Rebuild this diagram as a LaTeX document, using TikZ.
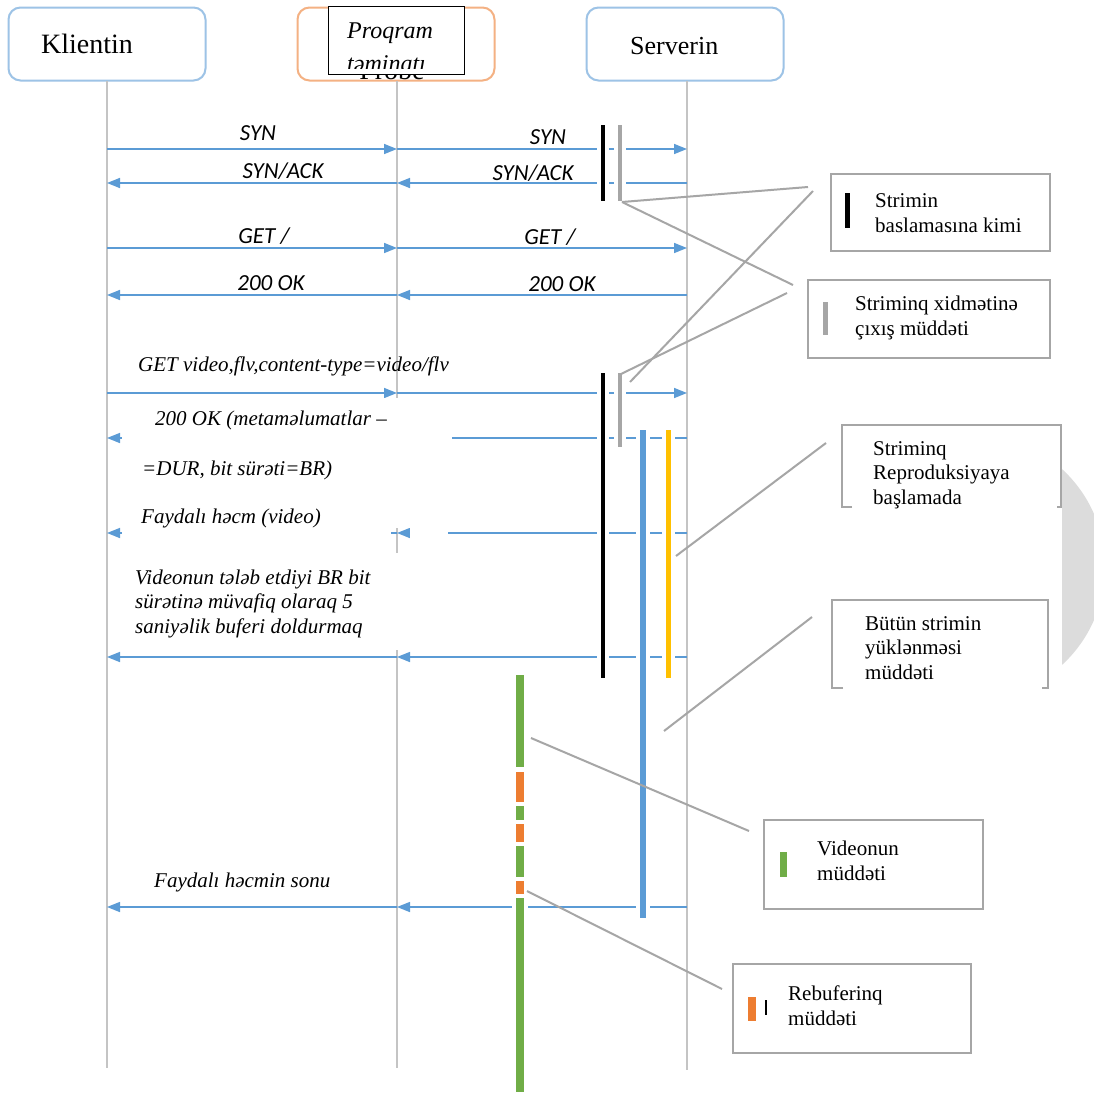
\documentclass[tikz,border=0pt]{standalone}
\usepackage{fontspec}
\setmainfont{Liberation Serif}
\newfontfamily\calib{Carlito}
\usetikzlibrary{arrows.meta}
\definecolor{msgblue}{HTML}{5B9BD5}
\definecolor{lifegray}{HTML}{C4C4C4}
\definecolor{leadgray}{HTML}{A6A6A6}
\definecolor{hdrblue}{HTML}{9DC3E6}
\definecolor{hdrorange}{HTML}{F4B183}
\definecolor{barblue}{HTML}{5B9BD5}
\definecolor{baryellow}{HTML}{FFC000}
\definecolor{bargreen}{HTML}{70AD47}
\definecolor{barorange}{HTML}{ED7D31}
\definecolor{barsilver}{HTML}{A6A6A6}
\definecolor{haze}{HTML}{DCDCDC}
% vertical duration bar with a white halo that interrupts the message lines
\newcommand\durbar[5]{%
  \draw[white, line width=#4pt+8pt] (#1,#2) -- (#1,#3);
  \draw[#5, line width=#4pt] (#1,#2) -- (#1,#3);}
\begin{document}
\begin{tikzpicture}[x=1pt,y=-1pt,
  header/.style={draw=#1, line width=2, rounded corners=12, fill=white,
    minimum width=197, minimum height=73, inner sep=0},
  hdrtext/.style={font=\fontsize{#1}{#1}\selectfont, anchor=base west, inner sep=0},
  lifeline/.style={draw=lifegray, line width=1.3},
  msg/.style={draw=msgblue, line width=1.5, -{Triangle[length=13,width=10]}},
  msglabel/.style={font=\calib\itshape\fontsize{23}{26}\selectfont, anchor=base, inner sep=0},
  note/.style={font=\itshape\fontsize{21}{24.5}\selectfont, anchor=base west, inner sep=0},
  legtext/.style={font=\fontsize{21}{24.5}\selectfont, anchor=base west, inner sep=0, align=left},
  legbox/.style={draw=leadgray, line width=1.8, fill=white, inner sep=0, anchor=north west},
  leader/.style={draw=leadgray, line width=2}
]
\useasboundingbox (0,0) rectangle (1094,1095);
\fill[white] (0,0) rectangle (1094,1095);

% soft grey disc at the right margin
\begin{scope}
  \clip (1062,0) rectangle (1094,1095);
  \fill[haze] (972,567) circle[radius=133];
\end{scope}

% ---------- participants ----------
\node[header=hdrblue]   (client) at (107,44) {};
\node[header=hdrorange] (proxy)  at (396,44) {};
\node[header=hdrblue]   (server) at (685,44) {};
\node[hdrtext=28] (clientname) at (41,53) {Klientin};
\node[hdrtext=26] (servername) at (630,54) {Serverin};
\begin{scope}
  \clip (328,74.5) rectangle (464,80);
  \node[hdrtext=28, anchor=base] (proxyold) at (392,79) {Probe};
\end{scope}
\node[draw=black, line width=1.2, fill=white, minimum width=136, minimum height=68,
  inner sep=0, anchor=north west] (proxyname) at (328,6) {};
\node[font=\itshape\fontsize{24}{26}\selectfont, anchor=base west, inner sep=0]
  (proxyl1) at (347,38) {Proqram};
\begin{scope}
  \clip (329,40) rectangle (463,68.5);
  \node[font=\itshape\fontsize{24}{26}\selectfont, anchor=base west, inner sep=0]
    (proxyl2) at (347,71) {təminatı};
\end{scope}

% ---------- lifelines ----------
\coordinate (ctop) at (107,81);  \coordinate (cend) at (107,1068);
\coordinate (ptop) at (397,81);  \coordinate (pend) at (397,1068);
\coordinate (stop) at (687,81);  \coordinate (send) at (687,1070);
\draw[lifeline] (ctop) -- (cend);
\draw[lifeline] (ptop) -- (pend);
\draw[lifeline] (stop) -- (send);

% ---------- messages ----------
\foreach \n/\y in {syn/149,ack/183,get/248,ok/295,vid/393,meta/438,pay/533,buf/657,fin/907}{
  \coordinate (C\n) at (107,\y);
  \coordinate (P\n) at (397,\y);
  \coordinate (S\n) at (687,\y);
}
\foreach \n in {syn,get,vid}{
  \draw[msg] (C\n) -- (P\n);
  \draw[msg] (P\n) -- (S\n);
}
\foreach \n in {ack,ok,meta,pay,buf,fin}{
  \draw[msg] (S\n) -- (P\n);
  \draw[msg] (P\n) -- (C\n);
}

\node[msglabel] (syn1) at (258,140) {SYN};
\node[msglabel] (syn2) at (548,144) {SYN};
\node[msglabel] (ack1) at (283,178) {SYN/ACK};
\node[msglabel] (ack2) at (533,180) {SYN/ACK};
\node[msglabel] (get1) at (264,243) {GET /};
\node[msglabel] (get2) at (550,244) {GET /};
\node[msglabel] (ok1)  at (271,290) {200 OK};
\node[msglabel] (ok2)  at (562,291) {200 OK};

% label backgrounds over the lines
\fill[white] (122,398) rectangle (452,528);
\fill[white] (122,528) rectangle (391,539);
\fill[white] (410,528) rectangle (448,539);
\fill[white] (122,553) rectangle (455,650);

\node[note] (reqvideo) at (138,371) {GET video,flv,content-type=video/flv};
\node[note] (meta1) at (155,425) {200 OK (metaməlumatlar –};
\node[note] (meta2) at (142,475) {=DUR, bit sürəti=BR)};
\node[note] (payload) at (141,523) {Faydalı həcm (video)};
\node[note] (fill1) at (135,584) {Videonun tələb etdiyi BR bit};
\node[note] (fill2) at (135,608) {sürətinə müvafiq olaraq 5};
\node[note] (fill3) at (135,633) {saniyəlik buferi doldurmaq};
\node[note] (payend) at (154,887) {Faydalı həcmin sonu};

% ---------- duration bars ----------
\durbar{603}{125}{201}{4}{black}
\durbar{620}{125}{201}{4}{barsilver}
\durbar{603}{373}{678}{4}{black}
\durbar{620}{373}{447}{4}{barsilver}
\durbar{643}{430}{918}{6}{barblue}
\durbar{668}{430}{678}{5}{baryellow}
\durbar{520}{675}{767}{8}{bargreen}
\durbar{520}{772}{802}{8}{barorange}
\durbar{520}{806}{820}{8}{bargreen}
\durbar{520}{824}{842}{8}{barorange}
\durbar{520}{846}{877}{8}{bargreen}
\durbar{520}{881}{894}{8}{barorange}
\durbar{520}{898}{1092}{8}{bargreen}

% ---------- legend (multi-line texts are placed by their last baseline) ----------
\node[legbox, minimum width=219, minimum height=77] (lgstart) at (830,173) {};
\fill[black] (845,193) rectangle (850,228);
\node[legtext] (lgstartt) at (875,232) {Strimin\\baslamasına kimi};

\node[legbox, minimum width=242, minimum height=78] (lgaccess) at (807,279) {};
\fill[barsilver] (823,302) rectangle (828,335);
\node[legtext] (lgaccesst) at (855,335) {Striminq xidmətinə\\çıxış müddəti};

\node[fill=white, inner sep=0, anchor=north west, minimum width=219, minimum height=82] (lgplay) at (842,425) {};
\draw[leadgray, line width=1.8] (852,507) -- (842,507) -- (842,425) -- (1061,425) -- (1061,507) -- (1057,507);
\node[legtext] (lgplayt) at (873,504) {Striminq\\Reproduksiyaya\\başlamada};

\node[fill=white, inner sep=0, anchor=north west, minimum width=216, minimum height=88] (lgload) at (832,600) {};
\draw[leadgray, line width=1.8] (843,688) -- (832,688) -- (832,600) -- (1048,600) -- (1048,688) -- (1042,688);
\node[legtext] (lgloadt) at (865,679) {Bütün strimin\\yüklənməsi\\müddəti};

\node[legbox, minimum width=219, minimum height=89] (lgvideo) at (763,819) {};
\fill[bargreen] (780,852) rectangle (787,877);
\node[legtext] (lgvideot) at (817,880) {Videonun\\müddəti};

\node[legbox, minimum width=238, minimum height=89] (lgrebuf) at (732,963) {};
\fill[barorange] (748,997) rectangle (756,1021);
\fill[black] (765,1000) rectangle (767,1015);
\node[legtext] (lgrebuft) at (788,1025) {Rebuferinq\\müddəti};

% ---------- leader lines ----------
\coordinate (a1) at (622,202);  \coordinate (b1) at (808,187);
\coordinate (a2) at (622,202);  \coordinate (b2) at (793,285);
\coordinate (a3) at (630,382);  \coordinate (b3) at (813,191);
\coordinate (a4) at (621,374);  \coordinate (b4) at (787,293);
\coordinate (a5) at (676,556);  \coordinate (b5) at (826,443);
\coordinate (a6) at (664,731);  \coordinate (b6) at (812,617);
\coordinate (a7) at (531,738);  \coordinate (b7) at (749,831);
\coordinate (a8) at (527,891);  \coordinate (b8) at (722,989);
\foreach \i in {1,...,8}{ \draw[leader] (a\i) -- (b\i); }
\end{tikzpicture}
\end{document}
